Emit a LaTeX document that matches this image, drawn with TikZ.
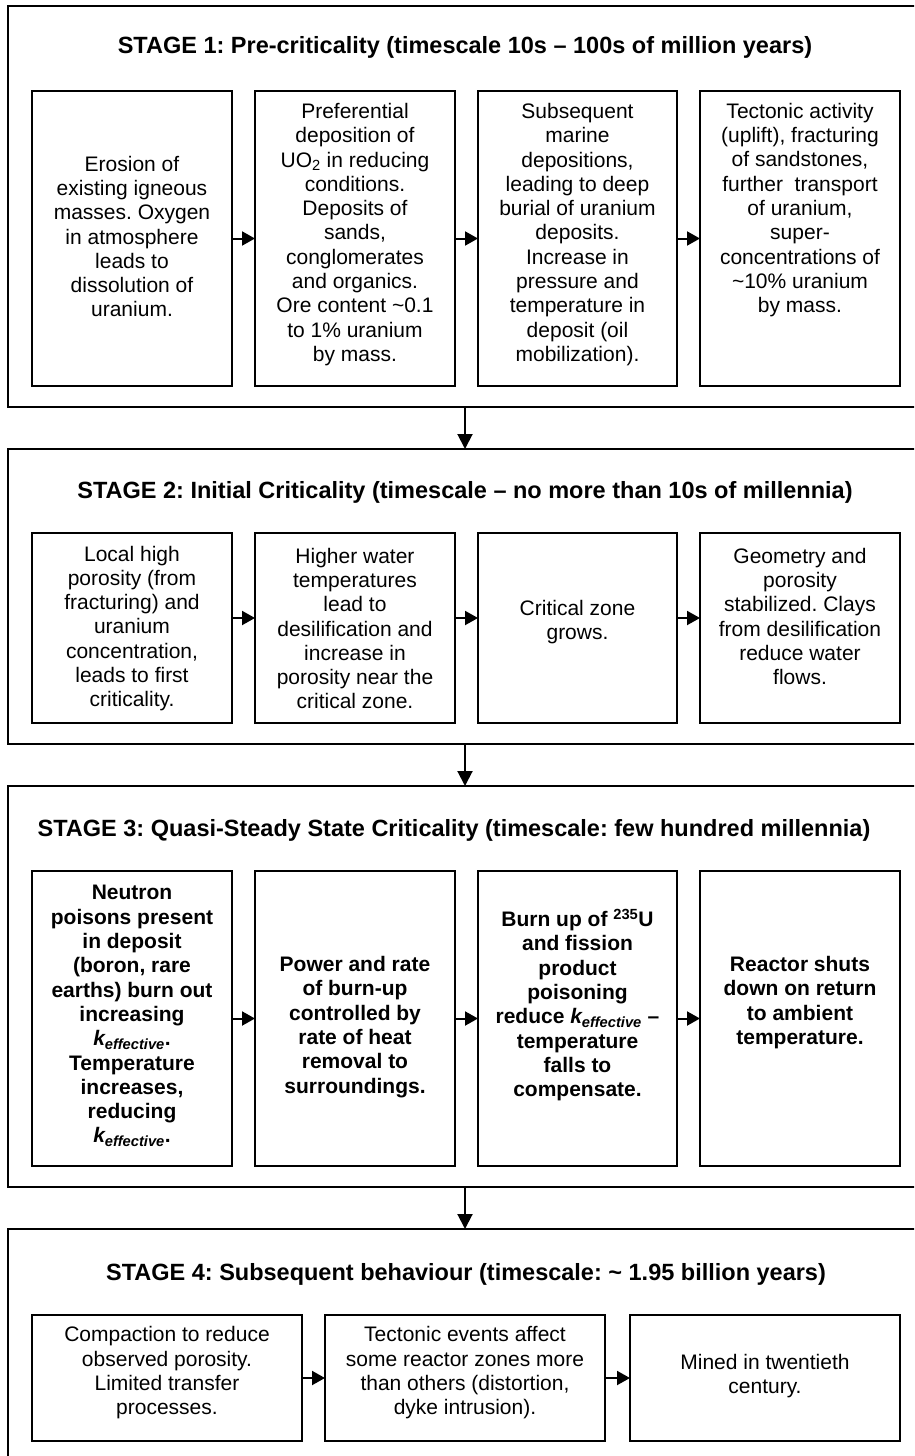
\documentclass[tikz,border=0pt]{standalone}
\usepackage{fontspec}
\setmainfont{Liberation Sans}
\usetikzlibrary{arrows.meta}
\frenchspacing
\tikzset{
 outerbox/.style={draw, line width=2pt, rectangle, inner sep=0pt, outer sep=0pt, anchor=north west},
 innerbox/.style={draw, line width=1.8pt, rectangle, inner sep=0pt, outer sep=0pt, anchor=north west},
 body/.style={align=center, inner sep=0pt, font=\fontsize{21}{24.3}\selectfont},
 bodybold/.style={align=center, inner sep=0pt, font=\fontsize{21}{24.3}\selectfont\bfseries},
 stagetitle/.style={inner sep=0pt, font=\fontsize{23.5}{28}\selectfont\bfseries},
 harrow/.style={line width=2pt, -{Triangle[length=13pt,width=14pt]}},
 varrow/.style={line width=2pt, -{Triangle[length=15pt,width=15pt]}},
}
\newcommand{\keff}{{\itshape k\textsubscript{effective}}}
\begin{document}
\begin{tikzpicture}[x=1pt,y=1pt]
\useasboundingbox (0,0) rectangle (914,-1456);
\fill[white] (0,0) rectangle (914,-1456);
\clip (0,0) rectangle (914,-1456);

% outer stage boxes
\node[outerbox, minimum width=940pt, minimum height=401pt] (s1) at (8,-6) {};
\node[outerbox, minimum width=940pt, minimum height=295pt] (s2) at (8,-449) {};
\node[outerbox, minimum width=940pt, minimum height=401pt] (s3) at (8,-786) {};
\node[outerbox, minimum width=940pt, minimum height=300pt] (s4) at (8,-1229) {};

% titles
\node[stagetitle] (t1) at (465,-47) {STAGE 1: Pre-criticality (timescale 10s – 100s of million years)};
\node[stagetitle] (t2) at (465,-492) {STAGE 2: Initial Criticality (timescale – no more than 10s of millennia)};
\node[stagetitle] (t3) at (454,-830) {STAGE 3: Quasi-Steady State Criticality (timescale: few hundred millennia)};
\node[stagetitle] (t4) at (466,-1274) {STAGE 4: Subsequent behaviour (timescale: \textasciitilde{} 1.95 billion years)};

% stage 1 inner boxes
\node[innerbox, minimum width=200pt, minimum height=295pt] (b11) at (32,-91) {};
\node[innerbox, minimum width=200pt, minimum height=295pt] (b12) at (255,-91) {};
\node[innerbox, minimum width=199pt, minimum height=295pt] (b13) at (478,-91) {};
\node[innerbox, minimum width=200pt, minimum height=295pt] (b14) at (700,-91) {};

\node[body] (x11) at (132,-236.5) {Erosion of\\existing igneous\\masses. Oxygen\\in atmosphere\\leads to\\dissolution of\\uranium.};
\node[body] (x12) at (355,-234.5) {Preferential\\deposition of\\UO\textsubscript{2} in reducing\\conditions.\\Deposits of\\sands,\\conglomerates\\and organics.\\Ore content \textasciitilde0.1\\to 1\% uranium\\by mass.};
\node[body] (x13) at (577.5,-234.5) {Subsequent\\marine\\depositions,\\leading to deep\\burial of uranium\\deposits.\\Increase in\\pressure and\\temperature in\\deposit (oil\\mobilization).};
\node[body] (x14) at (800,-210) {Tectonic activity\\(uplift), fracturing\\of sandstones,\\further\ \ transport\\of uranium,\\super-\\concentrations of\\\textasciitilde10\% uranium\\by mass.};

\draw[harrow] (b11.east) -- (b12.west);
\draw[harrow] (b12.east) -- (b13.west);
\draw[harrow] (b13.east) -- (b14.west);

% stage 2 inner boxes
\node[innerbox, minimum width=200pt, minimum height=190pt] (b21) at (32,-533) {};
\node[innerbox, minimum width=200pt, minimum height=190pt] (b22) at (255,-533) {};
\node[innerbox, minimum width=199pt, minimum height=190pt] (b23) at (478,-533) {};
\node[innerbox, minimum width=200pt, minimum height=190pt] (b24) at (700,-533) {};

\node[body] (x21) at (132,-628.5) {Local high\\porosity (from\\fracturing) and\\uranium\\concentration,\\leads to first\\criticality.};
\node[body] (x22) at (355,-628.5) {Higher water\\temperatures\\lead to\\desilification and\\increase in\\porosity near the\\critical zone.};
\node[body] (x23) at (577.5,-622) {Critical zone\\grows.};
\node[body] (x24) at (800,-616.5) {Geometry and\\porosity\\stabilized. Clays\\from desilification\\reduce water\\flows.};

\draw[harrow] ([yshift=10pt]b21.east) -- ([yshift=10pt]b22.west);
\draw[harrow] ([yshift=10pt]b22.east) -- ([yshift=10pt]b23.west);
\draw[harrow] ([yshift=10pt]b23.east) -- ([yshift=10pt]b24.west);

% stage 3 inner boxes
\node[innerbox, minimum width=200pt, minimum height=295pt] (b31) at (32,-871) {};
\node[innerbox, minimum width=200pt, minimum height=295pt] (b32) at (255,-871) {};
\node[innerbox, minimum width=199pt, minimum height=295pt] (b33) at (478,-871) {};
\node[innerbox, minimum width=200pt, minimum height=295pt] (b34) at (700,-871) {};

\node[bodybold] (x31) at (132,-1016) {Neutron\\poisons present\\in deposit\\(boron, rare\\earths) burn out\\increasing\\\keff.\\Temperature\\increases,\\reducing\\\keff.};
\node[bodybold] (x32) at (355,-1027) {Power and rate\\of burn-up\\controlled by\\rate of heat\\removal to\\surroundings.};
\node[bodybold] (x33) at (577.5,-1005) {Burn up of \textsuperscript{235}U\\and fission\\product\\poisoning\\reduce \keff{} –\\temperature\\falls to\\compensate.};
\node[bodybold] (x34) at (800,-1002.5) {Reactor shuts\\down on return\\to ambient\\temperature.};

\draw[harrow] (b31.east) -- (b32.west);
\draw[harrow] (b32.east) -- (b33.west);
\draw[harrow] (b33.east) -- (b34.west);

% stage 4 inner boxes
\node[innerbox, minimum width=270pt, minimum height=126pt] (b41) at (32,-1315) {};
\node[innerbox, minimum width=280pt, minimum height=126pt] (b42) at (325,-1315) {};
\node[innerbox, minimum width=270pt, minimum height=126pt] (b43) at (630,-1315) {};

\node[body] (x41) at (167,-1373) {Compaction to reduce\\observed porosity.\\Limited transfer\\processes.};
\node[body] (x42) at (465,-1373) {Tectonic events affect\\some reactor zones more\\than others (distortion,\\dyke intrusion).};
\node[body] (x43) at (765,-1376) {Mined in twentieth\\century.};

\draw[harrow] (b41.east) -- (b42.west);
\draw[harrow] (b42.east) -- (b43.west);

% stage-to-stage arrows
\coordinate (cx) at (465,0);
\draw[varrow] (s1.south -| cx) -- (s2.north -| cx);
\draw[varrow] (s2.south -| cx) -- (s3.north -| cx);
\draw[varrow] (s3.south -| cx) -- (s4.north -| cx);
\end{tikzpicture}
\end{document}
